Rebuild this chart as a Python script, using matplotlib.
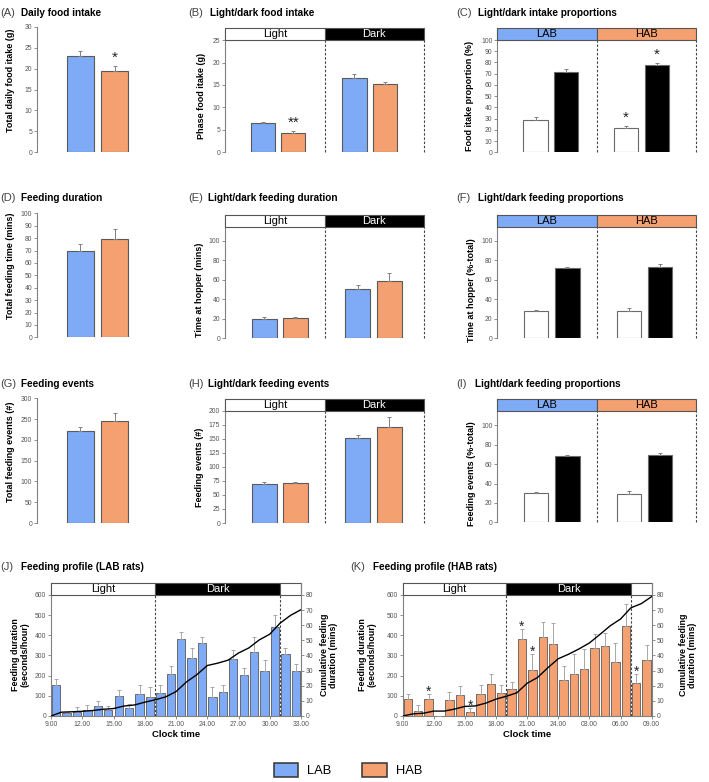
import numpy as np
import matplotlib
matplotlib.use('Agg')
import matplotlib.pyplot as plt
from matplotlib.patches import Rectangle, Patch

plt.rcParams['font.family'] = ['Liberation Sans', 'DejaVu Sans']

W, H = 709, 782

LAB_COLOR = '#7EAAF6'
HAB_COLOR = '#F4A070'
EDGE = '#5a5a5a'
ERR = '#808080'

# ---------------- data ----------------
groups = ['LAB', 'HAB']
phases = ['Light', 'Dark']

# (A) daily food intake, [LAB, HAB]
daily_intake = [23.1, 19.5]
daily_intake_err = [1.1, 1.1]
daily_intake_sig = ['', '*']

# (B) phase food intake, [LAB, HAB] per phase
intake_light = [6.45, 4.2]
intake_light_err = [0.4, 0.5]
intake_light_sig = ['', '**']
intake_dark = [16.6, 15.2]
intake_dark_err = [0.8, 0.4]

# (C) intake proportions, [light, dark] per group
intake_prop_LAB = [28.5, 71.5]
intake_prop_LAB_err = [3.0, 3.0]
intake_prop_HAB = [21.9, 77.7]
intake_prop_HAB_err = [1.5, 1.8]
intake_prop_HAB_sig = ['*', '*']

# (D) feeding duration
feeding_duration = [69.9, 79.3]
feeding_duration_err = [5.0, 8.0]

# (E) light/dark feeding duration
duration_light = [19.8, 20.9]
duration_light_err = [1.6, 1.3]
duration_dark = [50.7, 58.6]
duration_dark_err = [3.6, 8.3]

# (F) feeding duration proportions
duration_prop_LAB = [28.4, 72.6]
duration_prop_LAB_err = [0.6, 0.7]
duration_prop_HAB = [28.0, 73.0]
duration_prop_HAB_err = [2.8, 3.0]

# (G) feeding events
feeding_events = [221, 245]
feeding_events_err = [10, 20]

# (H) light/dark feeding events
events_light = [69, 70.8]
events_light_err = [3.5, 3.0]
events_dark = [151, 171]
events_dark_err = [5.5, 18.5]

# (I) feeding events proportions
events_prop_LAB = [30.7, 68.3]
events_prop_LAB_err = [0.5, 0.7]
events_prop_HAB = [29.7, 69.4]
events_prop_HAB_err = [2.4, 2.3]

# (J)/(K) hourly feeding profiles (bin start hour)
hour_bins = list(range(9, 33))
lights_off = 19
lights_on = 31
clock_ticks = [9, 12, 15, 18, 21, 24, 27, 30, 33]
clock_labels_J = ['9.00', '12.00', '15.00', '18.00', '21.00', '24.00', '27.00', '30.00', '33.00']
clock_labels_K = ['9.00', '12.00', '15.00', '18.00', '21.00', '24.00', '03.00', '06.00', '09.00']

lab_profile = [152, 15, 20, 30, 50, 28, 100, 41, 111, 96, 114, 210,
               383, 288, 364, 94, 119, 284, 203, 319, 223, 443, 306, 225]
lab_profile_err = [31, 5, 25, 25, 23, 20, 30, 19, 43, 49, 40, 40,
                   35, 49, 28, 50, 36, 43, 37, 74, 53, 59, 31, 33]
lab_profile_sig = [''] * 24

hab_profile = [85, 25, 85, 0, 80, 105, 20, 110, 160, 115, 135, 380,
               228, 390, 355, 180, 210, 235, 335, 345, 270, 445, 165, 280]
hab_profile_err = [25, 30, 25, 0, 40, 45, 20, 45, 50, 40, 35, 50,
                   77, 75, 105, 70, 95, 95, 70, 65, 92, 110, 45, 70]
hab_profile_sig = ['', '', '*', '', '', '', '*', '', '', '', '', '*',
                   '*', '', '', '', '', '', '', '', '', '', '*', '']

# ---------------- figure ----------------
fig = plt.figure(figsize=(W / 100, H / 100), dpi=100)


def add_ax(l, t, r, b):
    return fig.add_axes([l / W, 1 - b / H, (r - l) / W, (b - t) / H])


def ftext(x, y, s, **kw):
    fig.text(x / W, 1 - y / H, s, **kw)


def style(ax, ylim, yticks, xlim):
    ax.set_ylim(*ylim)
    ax.set_xlim(*xlim)
    ax.set_yticks(yticks)
    ax.set_xticks([])
    for s in ['top', 'right', 'bottom']:
        ax.spines[s].set_visible(False)
    ax.spines['left'].set_color('#808080')
    ax.spines['left'].set_linewidth(0.8)
    ax.tick_params(axis='y', direction='out', length=2, width=0.6,
                   labelsize=4.9, colors='#808080', labelcolor='#555555', pad=1.5)
    ax.patch.set_alpha(0)


def bars(ax, x, vals, errs, colors, edge=EDGE, width=0.49):
    ax.bar(x, vals, width=width, color=colors, edgecolor=edge, linewidth=0.8, zorder=2)
    ax.errorbar(x, vals, yerr=[np.zeros(len(vals)), errs], fmt='none', ecolor=ERR,
                elinewidth=0.7, capsize=1.5, capthick=0.7, zorder=3)


def stars(ax, x, tops, sig, off=3.3, fs=11):
    for xi, t, s in zip(x, tops, sig):
        if s:
            ax.annotate(s, (xi, t), xytext=(0, off), textcoords='offset points',
                        ha='center', va='baseline', fontsize=fs, color='#222222')


def band(ax, y0, y1, segs, fs=8):
    for x0, x1, face, label, tc in segs:
        ax.add_patch(Rectangle((x0, y0), x1 - x0, y1 - y0, facecolor=face,
                               edgecolor='#555555', linewidth=0.8, clip_on=False, zorder=4))
        if label:
            ax.text((x0 + x1) / 2, (y0 + y1) / 2, label, ha='center', va='center',
                    fontsize=fs, color=tc, zorder=5)


def dashes(ax, xs, y0):
    for xv in xs:
        ax.plot([xv, xv], [0, y0], color='#444444', lw=0.8, ls=(0, (2.2, 1.6)),
                clip_on=False, zorder=1)


def tops(v, e):
    return [a + b for a, b in zip(v, e)]


# ---- single comparison panels (A, D, G) ----
single_x = np.arange(len(groups))
single_xlim = (-1.255, 2.31)
single = [
    ((37, 26.7, 160, 152.3), daily_intake, daily_intake_err, daily_intake_sig, (0, 30), range(0, 31, 5)),
    ((37, 213.3, 160, 337.4), feeding_duration, feeding_duration_err, None, (0, 100), range(0, 101, 10)),
    ((37, 398.3, 160, 523), feeding_events, feeding_events_err, None, (0, 300), range(0, 301, 50)),
]
for box, v, e, sig, ylim, yt in single:
    ax = add_ax(*box)
    style(ax, ylim, yt, single_xlim)
    bars(ax, single_x, v, e, [LAB_COLOR, HAB_COLOR], width=0.79)
    if sig:
        stars(ax, single_x, tops(v, e), sig)

# ---- phase panels (B, E, H) ----
phase_panels = [
    ((225, 28, 424, 152.3), (25, 27.7), range(0, 26, 5), [0.76, 1.37], [2.6, 3.21],
     intake_light, intake_light_err, intake_light_sig, intake_dark, intake_dark_err),
    ((225, 215, 424, 338.3), (114.7, 126.7), range(0, 101, 20), [0.79, 1.41], [2.67, 3.3],
     duration_light, duration_light_err, None, duration_dark, duration_dark_err),
    ((225, 399, 424, 523), (200, 221), range(0, 201, 25), [0.79, 1.41], [2.67, 3.3],
     events_light, events_light_err, None, events_dark, events_dark_err),
]
for box, (b0, b1), yt, xl, xd, lv, le, lsig, dv, de in phase_panels:
    ax = add_ax(*box)
    style(ax, (0, b1), yt, (0, 4))
    dashes(ax, [2, 4], b0)
    bars(ax, xl, lv, le, [LAB_COLOR, HAB_COLOR], width=0.49 if b1 < 30 else 0.5)
    bars(ax, xd, dv, de, [LAB_COLOR, HAB_COLOR], width=0.49 if b1 < 30 else 0.5)
    if lsig:
        stars(ax, xl, tops(lv, le), lsig)
    band(ax, b0, b1, [(0, 2, 'white', phases[0], 'black'), (2, 4, 'black', phases[1], 'white')])

# ---- proportion panels (C, F, I) ----
prop_panels = [
    ((497.3, 28, 696, 152.3), (100, 110.7), range(0, 101, 10), [0.77, 1.38], [2.59, 3.21],
     intake_prop_LAB, intake_prop_LAB_err, intake_prop_HAB, intake_prop_HAB_err, intake_prop_HAB_sig),
    ((497.3, 215, 696, 338.3), (114.7, 126.7), range(0, 101, 20), [0.78, 1.41], [2.65, 3.28],
     duration_prop_LAB, duration_prop_LAB_err, duration_prop_HAB, duration_prop_HAB_err, None),
    ((497.3, 399, 696, 522.4), (115, 127), range(0, 101, 20), [0.78, 1.41], [2.65, 3.28],
     events_prop_LAB, events_prop_LAB_err, events_prop_HAB, events_prop_HAB_err, None),
]
for box, (b0, b1), yt, xa, xb, av, ae, bv, be, bsig in prop_panels:
    ax = add_ax(*box)
    style(ax, (0, b1), yt, (0, 4))
    dashes(ax, [2, 4], b0)
    bars(ax, xa, av, ae, ['white', 'black'], edge='#6a6a6a')
    bars(ax, xb, bv, be, ['white', 'black'], edge='#6a6a6a')
    if bsig:
        stars(ax, xb, tops(bv, be), bsig)
    band(ax, b0, b1, [(0, 2, LAB_COLOR, groups[0], 'black'), (2, 4, HAB_COLOR, groups[1], 'black')])


# ---- profile panels (J, K) ----
def profile(box, vals, errs, sig, color, labels):
    ax = add_ax(*box)
    x = np.array(hour_bins) + 0.5
    top_left = 658
    ax.set_xlim(hour_bins[0], hour_bins[-1] + 1)
    ax.set_ylim(0, top_left)
    ax.set_yticks(range(0, 601, 100))
    ax.set_xticks(clock_ticks)
    ax.set_xticklabels(labels)
    for s in ['top', 'right']:
        ax.spines[s].set_visible(False)
    for s in ['left', 'bottom']:
        ax.spines[s].set_color('#808080')
        ax.spines[s].set_linewidth(0.8)
    ax.tick_params(direction='out', length=2, width=0.6, labelsize=4.9,
                   colors='#808080', labelcolor='#555555', pad=1.5)
    ax.bar(x, vals, width=0.8, color=color, edgecolor=EDGE, linewidth=0.6, zorder=2)
    ax.errorbar(x, vals, yerr=[np.zeros(len(vals)), errs], fmt='none', ecolor='#9a9a9a',
                elinewidth=0.6, capsize=1.2, capthick=0.6, zorder=3)
    stars(ax, x, tops(vals, errs), sig, off=-1.2, fs=10)
    dashes(ax, [lights_off, lights_on], 600)
    band(ax, 600, top_left, [(hour_bins[0], lights_off, 'white', phases[0], 'black'),
                             (lights_off, lights_on, 'black', phases[1], 'white'),
                             (lights_on, hour_bins[-1] + 1, 'white', '', 'black')])
    ax.set_xlabel('Clock time', fontsize=6.8, fontweight='bold', labelpad=1.5)
    tw = ax.twinx()
    tw.set_ylim(0, 80 * top_left / 600)
    tw.set_yticks(range(0, 81, 10))
    for s in ['top', 'left', 'bottom']:
        tw.spines[s].set_visible(False)
    tw.spines['right'].set_color('#808080')
    tw.spines['right'].set_linewidth(0.8)
    tw.tick_params(direction='out', length=2, width=0.6, labelsize=4.9,
                   colors='#808080', labelcolor='#555555', pad=1.5)
    edges = hour_bins + [hour_bins[-1] + 1]
    cum = np.concatenate([[0], np.cumsum(vals) / 60.0])
    tw.plot(edges, cum, color='black', lw=1.0, zorder=6)
    return ax


profile((51, 583.3, 301, 716), lab_profile, lab_profile_err, lab_profile_sig, LAB_COLOR, clock_labels_J)
profile((402.7, 583.3, 651.7, 716), hab_profile, hab_profile_err, hab_profile_sig, HAB_COLOR, clock_labels_K)

# ---- titles ----
titles = [
    ('(A)', 'Daily food intake', 0.5, 20.7, 13),
    ('(B)', 'Light/dark food intake', 188, 210, 13),
    ('(C)', 'Light/dark intake proportions', 456, 477.7, 13),
    ('(D)', 'Feeding duration', 0.5, 20.7, 198),
    ('(E)', 'Light/dark feeding duration', 188, 208, 198),
    ('(F)', 'Light/dark feeding proportions', 456, 477.7, 198),
    ('(G)', 'Feeding events', 0.5, 20.7, 384),
    ('(H)', 'Light/dark feeding events', 188, 208, 384),
    ('(I)', 'Light/dark feeding proportions', 456, 475, 384),
    ('(J)', 'Feeding profile (LAB rats)', 0.5, 20.7, 567.5),
    ('(K)', 'Feeding profile (HAB rats)', 350, 373, 567.5),
]
for tag, t, xt, xs, y in titles:
    ftext(xt, y, tag, fontsize=8, color='#444444', ha='left', va='center')
    ftext(xs, y, t, fontsize=7.2, fontweight='bold', ha='left', va='center')

# ---- y labels ----
ylabels = [
    (11, 80, 'Total daily food itake (g)'),
    (201, 96, 'Phase food itake (g)'),
    (470, 96, 'Food itake proportion (%)'),
    (11, 266, 'Total feeding time (mins)'),
    (200, 290, 'Time at hopper (mins)'),
    (471, 290, 'Time at hopper (%-total)'),
    (11, 452, 'Total feeding events (#)'),
    (200, 467, 'Feeding events (#)'),
    (471, 474, 'Feeding events (%-total)'),
    (20, 655, 'Feeding duration\n(seconds/hour)'),
    (329, 655, 'Cumulative feeding\nduration (mins)'),
    (367, 655, 'Feeding duration\n(seconds/hour)'),
    (688, 655, 'Cumulative feeding\nduration (mins)'),
]
for x, y, s in ylabels:
    fs = 6.4 if '\n' in s else 6.5
    ftext(x, y, s, fontsize=fs, fontweight='bold', rotation=90, ha='center', va='center',
          multialignment='center', linespacing=1.05)

# ---- legend ----
handles = [Patch(facecolor=LAB_COLOR, edgecolor='#333333', linewidth=1.1, label=groups[0]),
           Patch(facecolor=HAB_COLOR, edgecolor='#333333', linewidth=1.1, label=groups[1])]
fig.legend(handles=handles, loc='center', bbox_to_anchor=(348 / W, 1 - 770 / H), ncol=2,
           frameon=False, fontsize=9.3, handlelength=1.9, handleheight=1.4,
           handletextpad=0.7, columnspacing=2.4)

fig.savefig('out.png', dpi=100)
